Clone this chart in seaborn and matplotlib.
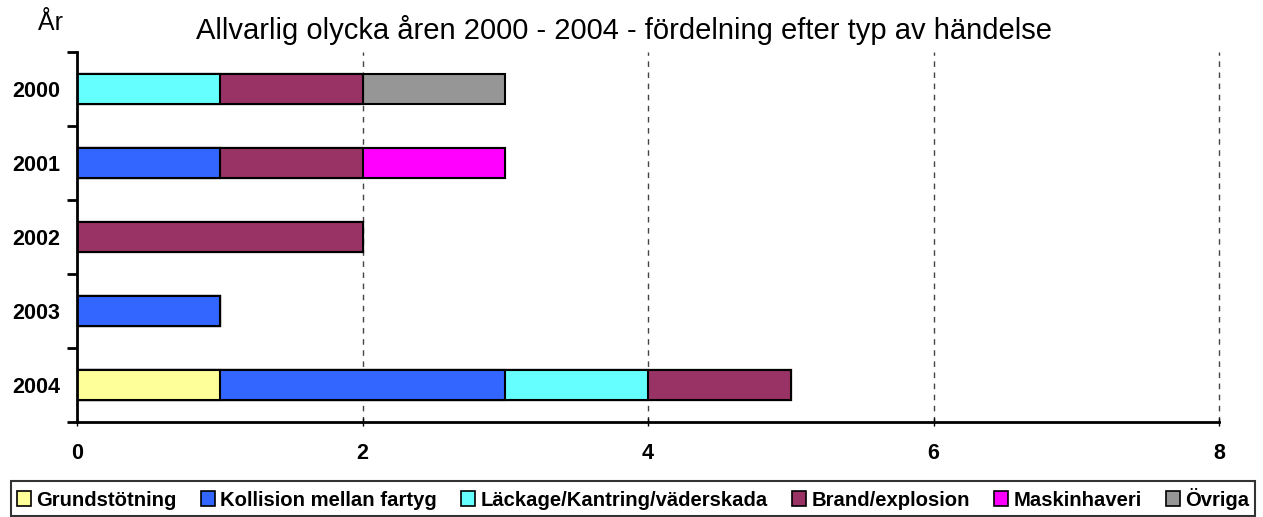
import numpy as np
import pandas as pd
import matplotlib
matplotlib.use("Agg")
import matplotlib.pyplot as plt
from matplotlib.patches import Patch
import seaborn as sns

years = ["2000", "2001", "2002", "2003", "2004"]
series_names = ["Grundstötning", "Kollision mellan fartyg", "Läckage/Kantring/väderskada",
                "Brand/explosion", "Maskinhaveri", "Övriga"]
grundstotning = [0, 0, 0, 0, 1]
kollision = [0, 1, 0, 1, 2]
lackage = [1, 0, 0, 0, 1]
brand = [1, 1, 2, 0, 1]
maskinhaveri = [0, 1, 0, 0, 0]
ovriga = [1, 0, 0, 0, 0]
colors = ["#FFFF99", "#3366FF", "#66FFFF", "#993366", "#FF00FF", "#969696"]
x_ticks = [0, 2, 4, 6, 8]
title = "Allvarlig olycka åren 2000 - 2004 - fördelning efter typ av händelse"

sns.set_theme(style="white")
plt.rcParams["font.family"] = ["Liberation Sans", "DejaVu Sans"]
plt.rcParams["text.color"] = "black"
plt.rcParams["xtick.color"] = "black"
plt.rcParams["ytick.color"] = "black"
plt.rcParams["xtick.labelcolor"] = "black"
plt.rcParams["ytick.labelcolor"] = "black"

values = np.array([grundstotning, kollision, lackage, brand, maskinhaveri, ovriga], dtype=float)
cum = np.cumsum(values, axis=0)

fig = plt.figure(figsize=(12.63, 5.17), dpi=100)
ax = fig.add_axes([77 / 1263, 1 - 422 / 517, (1219 - 77) / 1263, (422 - 52) / 517])

# dashed gridlines behind bars
for xv in x_ticks[1:]:
    ax.axvline(xv, color="#444444", linestyle=(0, (4, 4)), linewidth=1, zorder=0, clip_on=False)

# stacked bars: draw cumulative totals from last to first so earlier series overlay
for i in range(len(series_names) - 1, -1, -1):
    df = pd.DataFrame({"year": years, "value": cum[i]})
    sns.barplot(data=df, x="value", y="year", order=years, orient="h",
                color=colors[i], saturation=1, edgecolor="black", linewidth=1.5,
                width=0.4, ax=ax, zorder=2)

ax.set_xlim(0, 8)
ax.set_ylim(4.5, -0.5)
ax.set_xlabel("")
ax.set_ylabel("")
ax.set_xticks(x_ticks)
ax.set_xticklabels([str(t) for t in x_ticks], fontsize=15.5, fontweight="bold", color="black")
ax.set_yticks(range(len(years)))
ax.set_yticklabels(years, fontsize=15.5, fontweight="bold", color="black")
ax.set_yticks(np.arange(-0.5, len(years), 1.0), minor=True)
ax.tick_params(axis="y", which="major", length=0, pad=12)
ax.tick_params(axis="y", which="minor", length=7, width=2, direction="out", color="black", left=True)
ax.tick_params(axis="x", which="major", length=6, width=1, direction="inout", color="black", pad=12, bottom=True)

for s in ["top", "right"]:
    ax.spines[s].set_visible(False)
for s in ["left", "bottom"]:
    ax.spines[s].set_color("black")
    ax.spines[s].set_linewidth(2)
ax.grid(False)

fig.text(624 / 1263, 1 - 30 / 517, title, ha="center", va="center", fontsize=21, color="black")
fig.text(50 / 1263, 1 - 23 / 517, "År", ha="center", va="center", fontsize=18, color="black")

handles = [Patch(facecolor=c, edgecolor="black", linewidth=1.2) for c in colors]
leg = fig.legend(handles, series_names, loc="center", bbox_to_anchor=(633 / 1263, 1 - 498.5 / 517),
                 ncol=6, frameon=True, fancybox=False, edgecolor="black",
                 prop={"weight": "bold", "size": 14.6}, handlelength=0.7, handleheight=0.7,
                 handletextpad=0.25, columnspacing=1.2, borderpad=0.3, borderaxespad=0)
leg.get_frame().set_linewidth(1.5)
for t in leg.get_texts():
    t.set_color("black")

fig.savefig("out.png", dpi=100)
